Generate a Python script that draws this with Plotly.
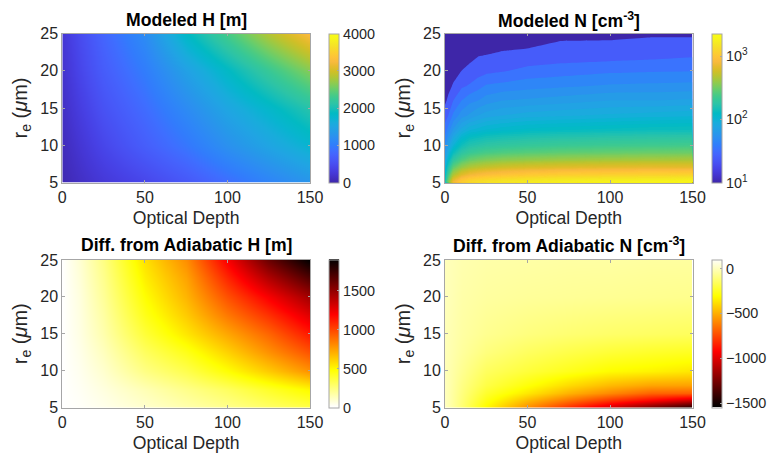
import math
import plotly.graph_objects as go

W, H = 768, 457
ML, MR, MT, MB = 40, 40, 12, 25
FONT = "Liberation Sans"
INK = "#262626"
GRID = "#a6a6a6"

def fx(px):
    return (px - ML) / (W - ML - MR)

def fy(py):
    return 1 - (py - MT) / (H - MT - MB)

# --- colour maps -------------------------------------------------------------
PARULA = [
 (.2422,.1504,.6603),(.2578,.1818,.7511),(.2706,.2147,.8364),(.2783,.2559,.8991),
 (.2813,.3006,.9414),(.2795,.3447,.9717),(.2699,.3892,.9906),(.2440,.4358,.9988),
 (.1963,.4847,.9892),(.1786,.5289,.9682),(.1687,.5703,.9359),(.1460,.6091,.9079),
 (.1248,.6459,.8883),(.0952,.6798,.8598),(.0297,.7082,.8163),(.0067,.7312,.7660),
 (.0964,.7500,.7120),(.1717,.7670,.6554),(.2161,.7843,.5923),(.2906,.7973,.5188),
 (.3909,.8029,.4354),(.5044,.7993,.3480),(.6174,.7876,.2612),(.7242,.7698,.1910),
 (.8203,.7498,.1535),(.9035,.7330,.1774),(.9728,.7298,.2394),(.9970,.7659,.2199),
 (.9892,.8136,.1885),(.9676,.8639,.1643),(.9597,.9135,.1423),(.9691,.9606,.1064),
 (.9769,.9839,.0805)]

def rgb(c):
    return "rgb(%d,%d,%d)" % tuple(round(255 * v) for v in c)

def parula_at(t):
    t = min(max(t, 0), 1) * (len(PARULA) - 1)
    i = min(int(t), len(PARULA) - 2)
    f = t - i
    return tuple(a + (b - a) * f for a, b in zip(PARULA[i], PARULA[i + 1]))

PARULA_SCALE = [[i / (len(PARULA) - 1), rgb(c)] for i, c in enumerate(PARULA)]
HOT_REV = [[0, "#ffffff"], [.25, "#ffff00"], [.625, "#ff0000"], [1, "#000000"]]
HOT = [[0, "#000000"], [.375, "#ff0000"], [.75, "#ffff00"], [1, "#ffffff"]]

# --- data --------------------------------------------------------------------
tau_h = [0, 10, 25, 50, 75, 100, 125, 150]
re_h = [5, 10, 15, 20, 25]
modeled_h = [
 [50, 150, 270, 430, 620, 850, 1080, 1300],
 [100, 240, 430, 700, 950, 1250, 1500, 1750],
 [150, 330, 560, 850, 1180, 1520, 1800, 2100],
 [200, 420, 680, 1020, 1450, 1850, 2250, 2650],
 [250, 480, 780, 1200, 1850, 2350, 2850, 3300],
]

tau_n = [0, 2, 5, 10, 15, 20, 25, 35, 50, 70, 100, 125, 150]
re_n = [5, 6, 7, 8, 9, 10, 12, 14, 16, 18, 20, 22, 24, 25]
modeled_n = [
 [140, 350, 800, 1150, 1350, 1450, 1520, 1620, 1730, 1850, 1950, 2000, 2030],
 [110, 230, 460, 660, 780, 850, 910, 980, 1060, 1130, 1180, 1210, 1240],
 [90, 165, 290, 400, 470, 510, 540, 590, 630, 660, 690, 710, 700],
 [75, 120, 190, 260, 310, 335, 355, 380, 400, 420, 440, 450, 460],
 [60, 90, 135, 185, 215, 230, 245, 260, 275, 290, 300, 310, 315],
 [50, 70, 100, 140, 165, 175, 185, 195, 205, 215, 225, 230, 235],
 [35, 45, 62, 85, 100, 105, 112, 118, 125, 130, 135, 140, 142],
 [25, 30, 42, 55, 62, 70, 75, 80, 85, 88, 92, 95, 98],
 [18, 22, 30, 40, 47, 50, 55, 60, 62, 65, 70, 70, 72],
 [14, 17, 21, 28, 31, 36, 41, 43, 46, 48, 51, 52, 53],
 [11, 13, 16, 20, 23, 25, 27, 29, 33, 35, 38, 39, 39.5],
 [9, 10, 12, 15, 17, 19.7, 20.4, 22, 23, 25, 25.5, 27, 29],
 [7, 8, 9, 11, 13, 14, 15, 16, 17, 20, 20.2, 22, 22],
 [6, 7, 8, 9, 10, 11, 12, 13, 14, 17, 18, 18, 18],
]

tau_dh = [0, 10, 25, 50, 75, 100, 125, 150]
re_dh = [5, 7.5, 10, 12.5, 15, 17.5, 20, 22.5, 25]
diff_h = [
 [0, 10, 35, 90, 150, 210, 280, 340],
 [0, 20, 60, 140, 220, 300, 400, 500],
 [0, 30, 90, 230, 330, 470, 620, 780],
 [0, 40, 120, 300, 430, 600, 780, 960],
 [0, 50, 150, 370, 540, 720, 900, 1120],
 [0, 55, 170, 430, 620, 850, 1050, 1280],
 [0, 60, 190, 475, 680, 960, 1200, 1450],
 [0, 70, 210, 520, 730, 1080, 1400, 1680],
 [0, 80, 230, 560, 790, 1200, 1600, 1900],
]

tau_dn = [0, 10, 25, 50, 75, 100, 125, 150]
re_dn = [5, 6, 7, 8, 10, 12.5, 15, 20, 25]
diff_n = [
 [0, -130, -330, -600, -840, -1060, -1300, -1520],
 [-5, -120, -280, -480, -650, -800, -920, -1050],
 [-10, -110, -240, -370, -500, -600, -690, -700],
 [-10, -100, -200, -300, -400, -480, -530, -540],
 [-15, -80, -160, -220, -270, -320, -340, -370],
 [-15, -60, -110, -160, -195, -225, -245, -260],
 [-15, -50, -80, -110, -130, -145, -155, -165],
 [-10, -40, -55, -65, -70, -75, -80, -85],
 [-10, -30, -40, -45, -50, -50, -55, -55],
]

x_ticks = [0, 50, 100, 150]
y_ticks = [5, 10, 15, 20, 25]
n_tick_vals = [1, 2, 3]
n_tick_text = ["10<sup>1</sup>", "10<sup>2</sup>", "10<sup>3</sup>"]
titles = ["Modeled H [m]", "Modeled N [cm<sup>-3</sup>]",
          "Diff. from Adiabatic H [m]", "Diff. from Adiabatic N [cm<sup>-3</sup>]"]

# --- layout helpers ----------------------------------------------------------
PANELS = [  # left, right, top, bottom, cbar left
    (62.3, 310, 33.5, 182.5, 329),
    (445, 692.5, 33.5, 182.5, 712),
    (62.3, 310, 260, 407.5, 329),
    (445, 692.5, 260, 407.5, 712),
]
TITLE_XY = [(186, 20), (569, 20), (186, 245), (569, 245)]

def cbar(i, tickvals, ticktext=None):
    l, r, t, b, c = PANELS[i]
    d = dict(x=fx(c), xanchor="left", xpad=0, ypad=0, thickness=10, thicknessmode="pixels",
             y=fy(b), yanchor="bottom", len=(b - t) / (H - MT - MB), lenmode="fraction",
             outlinecolor=GRID, outlinewidth=1, ticks="inside", ticklen=2, tickcolor=GRID,
             tickfont=dict(family=FONT, size=14.4, color=INK), tickvals=tickvals)
    if ticktext is not None:
        d["ticktext"] = ticktext
    return d

fig = go.Figure()

fig.add_trace(go.Heatmap(x=tau_h, y=re_h, z=modeled_h, zmin=0, zmax=4000, zsmooth="best",
    colorscale=PARULA_SCALE, colorbar=cbar(0, [0, 1000, 2000, 3000, 4000]), xaxis="x", yaxis="y"))

# N panel: colourbar comes from a log-valued heatmap, the bands from a contour laid over it
LOG_MIN, LOG_MAX = 1.0, 3.36
log_n = [[math.log10(v) for v in row] for row in modeled_n]
fig.add_trace(go.Heatmap(x=tau_n, y=re_n, z=log_n, zmin=LOG_MIN, zmax=LOG_MAX, zsmooth="best",
    colorscale=PARULA_SCALE, colorbar=cbar(1, n_tick_vals, n_tick_text), xaxis="x2", yaxis="y2"))

START, END, STEP = 20, 2300, 10
lo, hi = START - STEP / 2, END + STEP / 2
z_stops = sorted(set([lo, 19.9] + [10 ** (math.log10(20) + k * (LOG_MAX - math.log10(20)) / 120) for k in range(121)]))
n_scale = []
for z in z_stops:
    s = min(max((z - lo) / (hi - lo), 0), 1)
    col = PARULA[0] if z < 20 else parula_at((math.log10(z) - LOG_MIN) / (LOG_MAX - LOG_MIN))
    n_scale.append([s, rgb(col)])
n_scale[-1][0] = 1
fig.add_trace(go.Contour(x=tau_n, y=re_n, z=modeled_n, autocontour=False,
    contours=dict(start=START, end=END, size=STEP, coloring="fill", showlines=False),
    line=dict(width=0, smoothing=0), colorscale=n_scale, showscale=False, xaxis="x2", yaxis="y2"))

fig.add_trace(go.Heatmap(x=tau_dh, y=re_dh, z=diff_h, zmin=0, zmax=1900, zsmooth="best",
    colorscale=HOT_REV, colorbar=cbar(2, [0, 500, 1000, 1500]), xaxis="x3", yaxis="y3"))
fig.add_trace(go.Heatmap(x=tau_dn, y=re_dn, z=diff_n, zmin=-1550, zmax=100, zsmooth="best",
    colorscale=HOT, colorbar=cbar(3, [-1500, -1000, -500, 0]), xaxis="x4", yaxis="y4"))

layout = dict(width=W, height=H, margin=dict(l=ML, r=MR, t=MT, b=MB, autoexpand=False), paper_bgcolor="white",
              plot_bgcolor="white", showlegend=False, font=dict(family=FONT, color=INK))
annots = []
for i, (l, r, t, b, c) in enumerate(PANELS):
    sfx = "" if i == 0 else str(i + 1)
    common = dict(showline=True, mirror="ticks", linecolor=GRID, linewidth=1, ticks="inside", ticklen=2.5,
                  tickcolor=GRID, showgrid=False, zeroline=False,
                  tickfont=dict(family=FONT, size=16, color=INK))
    layout["xaxis" + sfx] = dict(common, domain=[fx(l), fx(r)], range=[0, 150], tickvals=x_ticks,
                                 anchor="y" + sfx, title=dict(text="Optical Depth", standoff=6,
                                 font=dict(family=FONT, size=17.6, color=INK)))
    layout["yaxis" + sfx] = dict(common, domain=[fy(b), fy(t)], range=[5, 25], tickvals=y_ticks,
                                 anchor="x" + sfx, title=dict(text="r<sub>e</sub> (<i>μ</i>m)", standoff=7,
                                 font=dict(family=FONT, size=20, color=INK)))
    tx, ty = TITLE_XY[i]
    annots.append(dict(text="<b>%s</b>" % titles[i], x=fx(tx), y=fy(ty), xref="paper", yref="paper",
                       xanchor="center", yanchor="middle", showarrow=False,
                       font=dict(family=FONT, size=17.6, color="#000000")))
layout["annotations"] = annots
fig.update_layout(**layout)
fig.write_html("out.html", config=dict(displayModeBar=False), post_script="document.body.style.margin='0';")
